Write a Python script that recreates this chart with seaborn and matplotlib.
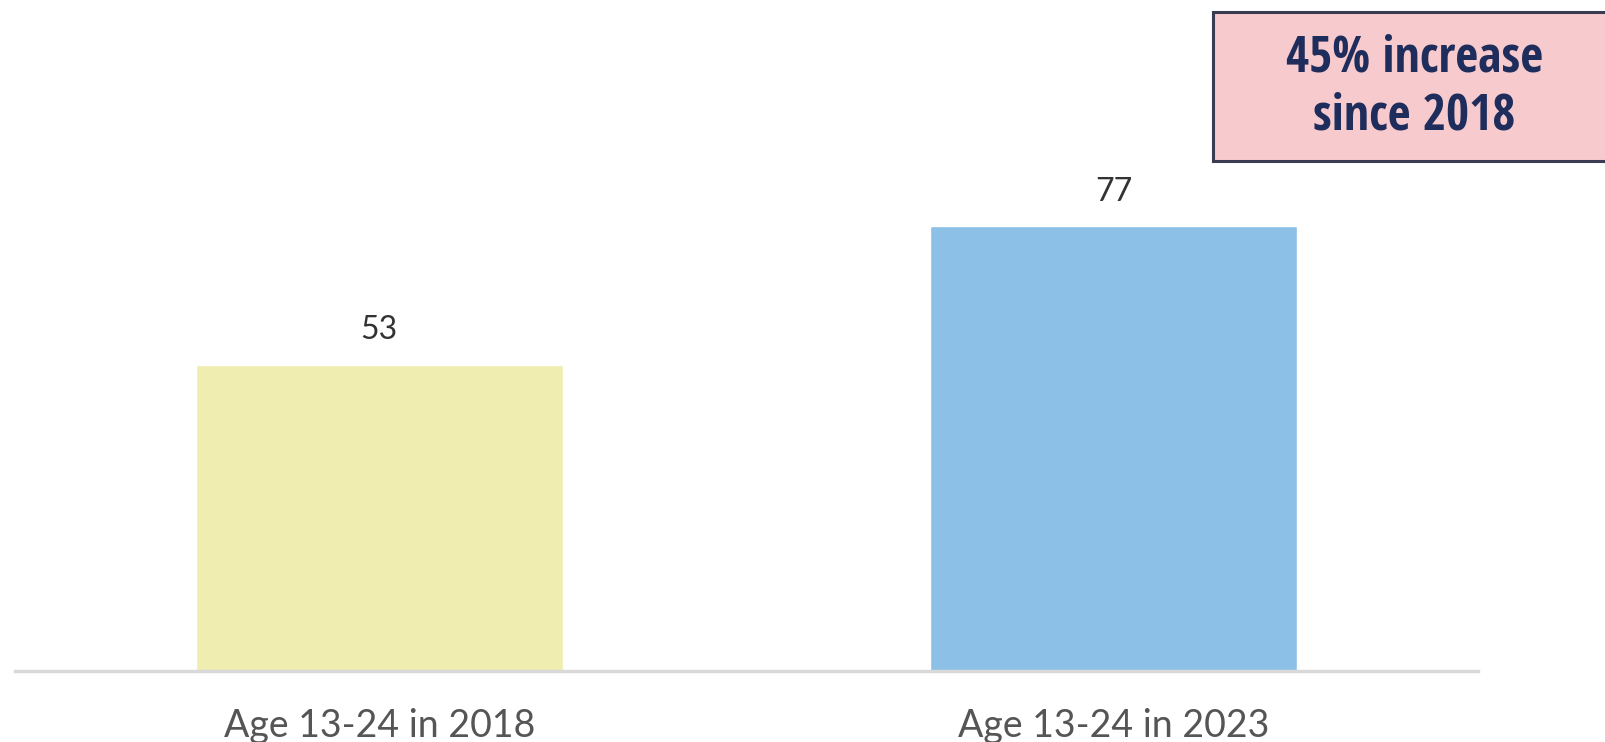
import matplotlib
matplotlib.use("Agg")
import matplotlib.pyplot as plt
from matplotlib.patches import Rectangle
from matplotlib import font_manager as fm
import seaborn as sns
import pandas as pd

categories = ["Age 13-24 in 2018", "Age 13-24 in 2023"]
values = [53, 77]
bar_colors = ["#f0edb0", "#8cc0e7"]
callout_text = "45% increase\nsince 2018"

sns.set_theme(style="white")
plt.rcParams["font.family"] = ["Lato", "DejaVu Sans"]


def condensed_bold_font():
    """Pick an installed bold, narrow sans face for the callout, if any."""
    narrow = {"ultra-condensed", "extra-condensed", "condensed", "semi-condensed"}
    best = None
    for f in fm.fontManager.ttflist:
        weight = f.weight if isinstance(f.weight, int) else fm.weight_dict.get(f.weight, 400)
        if f.stretch in narrow and 600 <= weight <= 750 and f.style == "normal":
            if "Mono" in f.name or "Serif" in f.name:
                continue
            best = f
            if f.name in ("Roboto Condensed", "Open Sans Condensed", "Liberation Sans Narrow"):
                break
    if best is not None:
        return fm.FontProperties(fname=best.fname, size=36)
    return fm.FontProperties(family=["Open Sans", "DejaVu Sans"], weight="bold", size=30)


df = pd.DataFrame({"group": categories, "value": values})

fig = plt.figure(figsize=(16.06, 7.42), dpi=100)
ax = fig.add_axes([0.0093, 0.0957, 0.911, 0.9043])

sns.barplot(data=df, x="group", y="value", hue="group", palette=bar_colors,
            width=0.5, legend=False, ax=ax, saturation=1)

ax.set_ylim(0, 116.1)
ax.set_xlim(-0.496, 1.496)
for c in ax.containers:
    ax.bar_label(c, fmt="%d", padding=14, fontsize=23, color="#333333")

ax.set_xlabel("")
ax.set_ylabel("")
ax.set_yticks([])
ax.tick_params(axis="x", length=0, pad=27, labelsize=27, labelcolor="#555555")
for side in ["left", "right", "top"]:
    ax.spines[side].set_visible(False)
ax.spines["bottom"].set_color("#d9d9d9")
ax.spines["bottom"].set_linewidth(2.5)

# callout box in the upper right corner
fig.patches.append(Rectangle((0.7553, 0.783), 0.26, 0.2008, transform=fig.transFigure,
                             facecolor="#f7cacd", edgecolor="#3a3d52", linewidth=2.2,
                             zorder=5))
fig.text(0.8805, 0.882, callout_text, ha="center", va="center",
         fontproperties=condensed_bold_font(), color="#1f2d5c", linespacing=1.2,
         zorder=6)

fig.savefig("out.png", dpi=100)
